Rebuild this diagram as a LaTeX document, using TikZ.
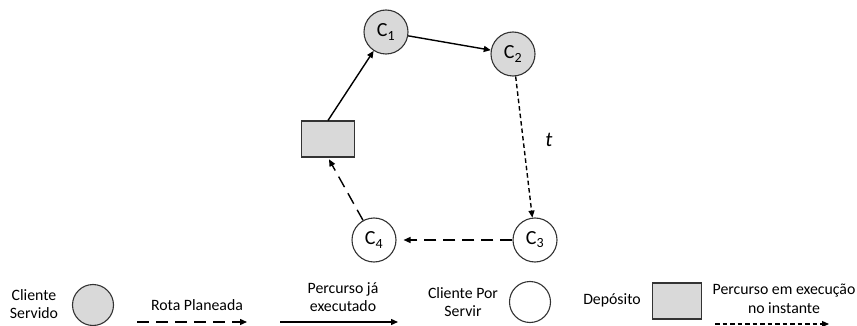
\documentclass[tikz,border=0pt]{standalone}
\usepackage{fontspec}
\setmainfont{Carlito}
\usetikzlibrary{arrows.meta}
\definecolor{served}{HTML}{D9D9D9}
\definecolor{edge}{HTML}{333333}
\tikzset{
  client/.style={circle, draw=edge, line width=1.1pt, minimum size=44pt, inner sep=0pt, font=\fontsize{20}{22}\selectfont},
  servedclient/.style={client, fill=served},
  openclient/.style={client, fill=white},
  depot/.style={rectangle, draw=edge, line width=1.1pt, fill=served, minimum width=53pt, minimum height=36pt, inner sep=0pt},
  legtext/.style={font=\fontsize{15.8}{18.5}\selectfont, align=center, inner sep=0pt},
  tip/.style={-{Triangle[length=7pt,width=6pt]}},
  done/.style={tip, line width=1.4pt},
  planned/.style={tip, line width=1.4pt, dash pattern=on 12pt off 7pt},
  running/.style={tip, line width=1.4pt, dash pattern=on 4.5pt off 3pt},
}
\begin{document}
\begin{tikzpicture}[x=1pt, y=-1pt]
\useasboundingbox (0,0) rectangle (857,326);

% route
\node[servedclient] (c1) at (386,32) {C\textsubscript{1}};
\node[servedclient] (c2) at (513,54) {C\textsubscript{2}};
\node[openclient]   (c3) at (535,240) {C\textsubscript{3}};
\node[openclient]   (c4) at (374,240) {C\textsubscript{4}};
\node[depot]        (dep) at (328,139) {};
\node[font=\fontsize{21}{23}\selectfont\itshape] (t) at (549,140) {t};

\draw[done] (dep.north) -- (c1);
\draw[done] (c1) -- (c2);
\draw[running] (c2) -- (c3);
\draw[planned, shorten >=7pt] (c3) -- (c4);
\draw[planned, shorten >=2pt] (c4) -- (dep.south);

% legend
\node[legtext] (l1) at (34,304) {Cliente\\Servido};
\node[servedclient, minimum size=41pt] (lc1) at (93,305) {};

\node[legtext] (l2) at (197,305) {Rota Planeada};
\coordinate (a1) at (137,322);
\coordinate (b1) at (247,322);
\draw[planned] (a1) -- (b1);

\node[legtext] (l3) at (343,297) {Percurso já\\executado};
\coordinate (a2) at (280,322);
\coordinate (b2) at (398,322);
\draw[done] (a2) -- (b2);

\node[legtext] (l4) at (463,302) {Cliente Por\\Servir};
\node[openclient, minimum size=41pt] (lc2) at (530,302) {};

\node[legtext] (l5) at (612,300) {Depósito};
\node[depot, minimum width=49pt, minimum height=36pt] (ld) at (677,301) {};

\node[legtext] (l6) at (784,299) {Percurso em execução\\no instante};
\coordinate (a3) at (715,324);
\coordinate (b3) at (829,324);
\draw[running, line width=1.2pt] (a3) -- (b3);
\end{tikzpicture}
\end{document}
